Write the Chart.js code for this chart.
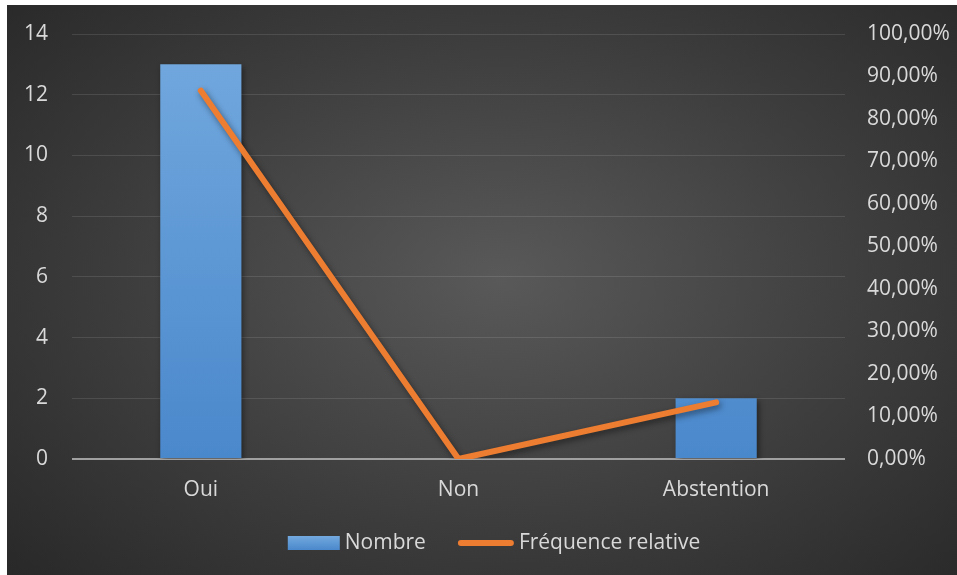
<!DOCTYPE html>
<html>
<head>
<meta charset="utf-8">
<script src="https://cdn.jsdelivr.net/npm/chart.js@4"></script>
<style>
  html, body { margin: 0; padding: 0; background: #ffffff; }
  #wrap {
    position: absolute; left: 7px; top: 5px; width: 950px; height: 570px;
    background: radial-gradient(ellipse 75% 80% at 52% 48%, #595959 0%, #3c3c3c 55%, #262626 100%);
  }
  canvas { display: block; }
</style>
</head>
<body>
<div id="wrap"><canvas id="c" width="950" height="570"></canvas></div>
<script>
const categories = ["Oui", "Non", "Abstention"];
const nombre = [13, 0, 2];
const frequence = [0.8667, 0, 0.1333];
const seriesNames = ["Nombre", "Fréquence relative"];

const FONT = "'Open Sans', 'Noto Sans', sans-serif";
const FSIZE = 21;
const TXT = "#d9d9d9";

function barGradient(ctx) {
  const chart = ctx.chart;
  const area = chart.chartArea;
  if (!area) return "#5b9bd5";
  const g = chart.ctx.createLinearGradient(0, area.top, 0, area.bottom);
  g.addColorStop(0, "#73a9de");
  g.addColorStop(1, "#4a88cc");
  return g;
}

const shadowPlugin = {
  id: "shadow",
  beforeDatasetDraw(chart) {
    const c = chart.ctx;
    c.save();
    c.shadowColor = "rgba(0,0,0,0.45)";
    c.shadowBlur = 6;
    c.shadowOffsetX = 2;
    c.shadowOffsetY = 3;
  },
  afterDatasetDraw(chart) {
    chart.ctx.restore();
  }
};

// Legend drawn in Office style: symbol, small gap, text
const officeLegend = {
  id: "officeLegend",
  afterDraw(chart) {
    const c = chart.ctx;
    c.save();
    c.font = FSIZE + "px " + FONT;
    c.textBaseline = "middle";
    c.textAlign = "left";
    const items = [
      { ds: chart.data.datasets[1], kind: "bar", sym: 52 },
      { ds: chart.data.datasets[0], kind: "line", sym: 56 }
    ];
    const gap = 5, spacing = 32;
    let total = 0;
    items.forEach((it, i) => {
      it.tw = c.measureText(it.ds.label).width;
      total += it.sym + gap + it.tw + (i ? spacing : 0);
    });
    const cy = 538;
    let x = 487 - total / 2;
    items.forEach((it, i) => {
      if (i) x += spacing;
      if (it.kind === "bar") {
        const g = c.createLinearGradient(0, cy - 7, 0, cy + 7);
        g.addColorStop(0, "#73a9de");
        g.addColorStop(1, "#4a88cc");
        c.fillStyle = g;
        c.fillRect(x, cy - 7, it.sym, 14);
      } else {
        c.strokeStyle = it.ds.borderColor;
        c.lineWidth = 6;
        c.lineCap = "round";
        c.beginPath();
        c.moveTo(x + 3, cy);
        c.lineTo(x + it.sym - 3, cy);
        c.stroke();
      }
      x += it.sym + gap;
      c.fillStyle = TXT;
      c.fillText(it.ds.label, x, cy);
      x += it.tw;
    });
    c.restore();
  }
};

new Chart(document.getElementById("c"), {
  data: {
    labels: categories,
    datasets: [
      {
        type: "line",
        label: seriesNames[1],
        data: frequence,
        yAxisID: "y1",
        borderColor: "#ed7d31",
        backgroundColor: "#ed7d31",
        borderWidth: 6,
        borderCapStyle: "round",
        borderJoinStyle: "round",
        pointRadius: 0,
        pointHoverRadius: 0,
        tension: 0,
        order: 0
      },
      {
        type: "bar",
        label: seriesNames[0],
        data: nombre,
        yAxisID: "y",
        backgroundColor: barGradient,
        borderWidth: 0,
        barPercentage: 0.63,
        categoryPercentage: 0.5,
        order: 1
      }
    ]
  },
  options: {
    responsive: false,
    animation: false,
    events: [],
    layout: { padding: { top: 29, bottom: 51, left: 0, right: 0 } },
    plugins: {
      tooltip: { enabled: false },
      legend: { display: false }
    },
    scales: {
      x: {
        grid: { display: false, drawTicks: false },
        border: { display: false },
        ticks: { color: TXT, font: { family: FONT, size: FSIZE }, padding: 18 },
        afterFit(scale) { scale.height = 65; scale.paddingLeft = 0; scale.paddingRight = 0; }
      },
      y: {
        position: "left",
        min: 0, max: 14,
        ticks: { stepSize: 2, color: TXT, font: { family: FONT, size: FSIZE }, padding: 24 },
        grid: {
          drawTicks: false,
          color: (c) => c.tick && c.tick.value === 0 ? "#a0a0a0" : "rgba(255,255,255,0.11)",
          lineWidth: (c) => c.tick && c.tick.value === 0 ? 2 : 1
        },
        border: { display: false },
        afterFit(scale) { scale.width = 65; scale.paddingTop = 0; scale.paddingBottom = 0; }
      },
      y1: {
        position: "right",
        min: 0, max: 1,
        ticks: {
          stepSize: 0.1,
          color: TXT,
          font: { family: FONT, size: FSIZE },
          padding: 22,
          callback: (v) => (v * 100).toFixed(2).replace(".", ",") + "%"
        },
        grid: { display: false, drawTicks: false },
        border: { display: false },
        afterFit(scale) { scale.width = 112; scale.paddingTop = 0; scale.paddingBottom = 0; }
      }
    }
  },
  plugins: [shadowPlugin, officeLegend]
});
</script>
</body>
</html>
